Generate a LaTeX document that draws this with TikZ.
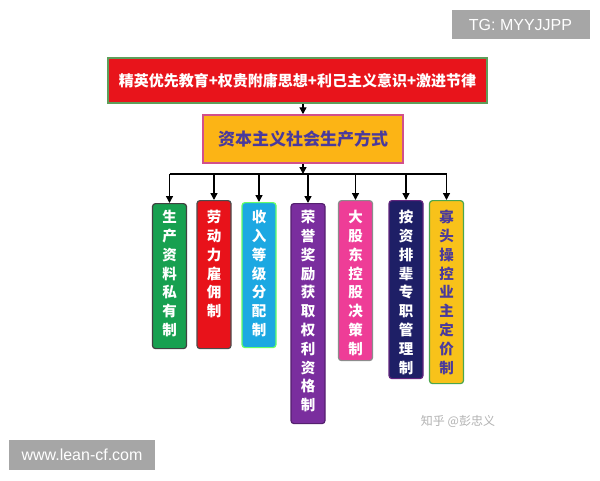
\documentclass[tikz,border=0pt]{standalone}
\usepackage{fontspec}
\usetikzlibrary{arrows.meta}
\newfontfamily\cjk{Noto Sans CJK SC}
\newfontfamily\latn{Liberation Sans}
\definecolor{topred}{HTML}{E8141B}
\definecolor{topborder}{HTML}{5E9E5A}
\definecolor{gold}{HTML}{FCB415}
\definecolor{goldborder}{HTML}{D2508A}
\definecolor{midtext}{HTML}{4A3A9C}
\definecolor{cgreen}{HTML}{17A050}
\definecolor{cred}{HTML}{E8121A}
\definecolor{ccyan}{HTML}{1CA8E2}
\definecolor{cpurple}{HTML}{7A2E9E}
\definecolor{cpink}{HTML}{EE3D97}
\definecolor{cnavy}{HTML}{1E1F66}
\definecolor{cgold}{HTML}{F8C21A}
\definecolor{wm}{HTML}{A6A6A6}
\tikzset{
  arr/.style={line width=1.4pt,-{Triangle[length=7pt,width=7pt]}},
  colbox/.style={draw=#1,line width=1.2pt,rounded corners=3pt,anchor=north,minimum width=34pt,inner sep=0pt},
  coltext/.style={anchor=north,inner sep=0pt,align=center,font=\cjk\bfseries\fontsize{14.5}{18.8}\selectfont,text=white},
  wmbox/.style={fill=wm,text=white,font=\latn\fontsize{16}{18}\selectfont,inner sep=0pt}
}
\begin{document}
\begin{tikzpicture}[x=1pt,y=-1pt]
\path[fill=white] (0,0) rectangle (600,480);
% top box
\node[draw=topborder,fill=topred,line width=1.5pt,minimum width=379pt,minimum height=45pt,inner sep=0pt,
      font=\cjk\bfseries\fontsize{15}{18}\selectfont,text=white] (top) at (297.5,80.5)
      {精英优先教育+权贵附庸思想+利己主义意识+激进节律};
% middle box
\node[draw=goldborder,fill=gold,line width=1.5pt,minimum width=200pt,minimum height=48pt,inner sep=0pt,
      font=\cjk\bfseries\fontsize{17}{20}\selectfont,text=midtext] (mid) at (303,139)
      {资本主义社会生产方式};
\draw[arr] (top.south -| mid.north) -- (mid.north);
\coordinate (bus) at (303,174);
% columns
\node[colbox=black!75,fill=cgreen,minimum height=145pt] (c1) at (169.5,203) {};
\node[colbox=black!70,fill=cred,minimum height=148pt] (c2) at (214,200) {};
\node[colbox=green!60!white,fill=ccyan,minimum height=145pt] (c3) at (259,202) {};
\node[colbox=cpurple!70!black,fill=cpurple,minimum height=220pt] (c4) at (308,203) {};
\node[colbox=black!45,fill=cpink,minimum height=160pt] (c5) at (355.5,200) {};
\node[colbox=cpurple!80!black,fill=cnavy,minimum height=178pt] (c6) at (406,200) {};
\node[colbox=green!50!black!70,fill=cgold,minimum height=183pt] (c7) at (446.5,200) {};
\node[coltext] (t1) at ([yshift=-7pt]c1.north) {生\\产\\资\\料\\私\\有\\制};
\node[coltext] (t2) at ([yshift=-10pt]c2.north) {劳\\动\\力\\雇\\佣\\制};
\node[coltext] (t3) at ([yshift=-8pt]c3.north) {收\\入\\等\\级\\分\\配\\制};
\node[coltext] (t4) at ([yshift=-7pt]c4.north) {荣\\誉\\奖\\励\\获\\取\\权\\利\\资\\格\\制};
\node[coltext] (t5) at ([yshift=-10pt]c5.north) {大\\股\\东\\控\\股\\决\\策\\制};
\node[coltext] (t6) at ([yshift=-10pt]c6.north) {按\\资\\排\\辈\\专\\职\\管\\理\\制};
\node[coltext,text=midtext] (t7) at ([yshift=-10pt]c7.north) {寡\\头\\操\\控\\业\\主\\定\\价\\制};
% connectors
\draw[arr] (mid.south) -- (bus);
\draw[line width=1.4pt] (c1.north |- bus) -- (c7.north |- bus);
\foreach \c in {c1,c2,c3,c4,c5,c6,c7}{
  \draw[arr] (\c.north |- bus) -- (\c.north);
}
% watermarks
\node[wmbox,minimum width=138pt,minimum height=29pt] (tg) at (520.5,24.5) {TG: MYYJJPP};
\node[wmbox,minimum width=146pt,minimum height=30pt] (www) at (82,455) {www.lean-cf.com};
\node[font=\cjk\fontsize{12}{14}\selectfont,text=black!30,inner sep=0pt] (zh) at (458,421) {知乎 @彭忠义};
\end{tikzpicture}
\end{document}
